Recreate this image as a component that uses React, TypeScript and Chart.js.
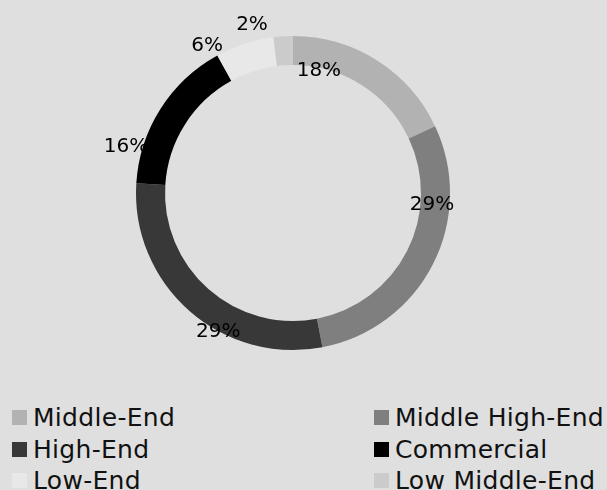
import React, { useEffect, useRef } from "react";
import { Chart, registerables } from "chart.js";

Chart.register(...registerables);

const categories = ["Middle-End", "Middle High-End", "High-End", "Commercial", "Low-End", "Low Middle-End"];
const shares = [18, 29, 29, 16, 6, 2];
const colors = ["#b2b2b2", "#7f7f7f", "#383838", "#000000", "#e8e8e8", "#cbcbcb"];
// label placement tweaks: fraction along the arc, and radius factor relative to outer radius
const labelArcFraction = [0.185, 0.287, 0.375, 0.207, -0.07, -0.9];
const labelRadiusFactor = [0.794, 0.889, 1.003, 1.104, 1.085, 1.104];

const BG = "#dfdfdf";
const FONT = "'DejaVu Sans', sans-serif";

const labelPlugin = {
  id: "sliceLabels",
  afterDatasetsDraw(chart: any) {
    const ctx = chart.ctx;
    const meta = chart.getDatasetMeta(0);
    ctx.save();
    ctx.font = "20px " + FONT;
    ctx.fillStyle = "#000";
    ctx.textAlign = "center";
    ctx.textBaseline = "middle";
    meta.data.forEach((arc: any, i: number) => {
      const p = arc.getProps(["x", "y", "startAngle", "endAngle", "outerRadius"], true);
      const a = p.startAngle + labelArcFraction[i] * (p.endAngle - p.startAngle);
      const r = p.outerRadius * labelRadiusFactor[i];
      ctx.fillText(shares[i] + "%", p.x + Math.cos(a) * r, p.y + Math.sin(a) * r);
    });
    ctx.restore();
  },
};

export default function App() {
  const ref = useRef<HTMLCanvasElement>(null);
  useEffect(() => {
    if (!ref.current) return;
    const chart = new Chart(ref.current, {
      type: "doughnut",
      data: {
        labels: categories,
        datasets: [
          {
            data: shares,
            backgroundColor: colors,
            borderWidth: 0,
          },
        ],
      },
      options: {
        responsive: false,
        animation: false,
        events: [],
        cutout: "81.5%",
        layout: { padding: { top: 36, bottom: 36, left: 0, right: 21 } },
        plugins: {
          legend: { display: false },
          tooltip: { enabled: false },
        },
      },
      plugins: [labelPlugin],
    });
    return () => chart.destroy();
  }, []);

  return (
    <div style={{ position: "fixed", left: 0, top: 0, width: 607, height: 490, background: BG, overflow: "hidden" }}>
      <canvas ref={ref} width={607} height={386} style={{ position: "absolute", left: 0, top: 0, width: 607, height: 386 }} />
      <div
        style={{
          position: "absolute",
          left: 12,
          top: 402,
          display: "grid",
          gridTemplateColumns: "362px auto",
          fontFamily: FONT,
          fontSize: 25,
          letterSpacing: 0.3,
          color: "#111",
        }}
      >
        {categories.map((c, i) => (
          <div key={c} style={{ display: "flex", alignItems: "center", height: 31.5, whiteSpace: "nowrap" }}>
            <span style={{ display: "inline-block", width: 15, height: 15, background: colors[i], marginRight: 6, flex: "none" }} />
            <span>{c}</span>
          </div>
        ))}
      </div>
    </div>
  );
}
